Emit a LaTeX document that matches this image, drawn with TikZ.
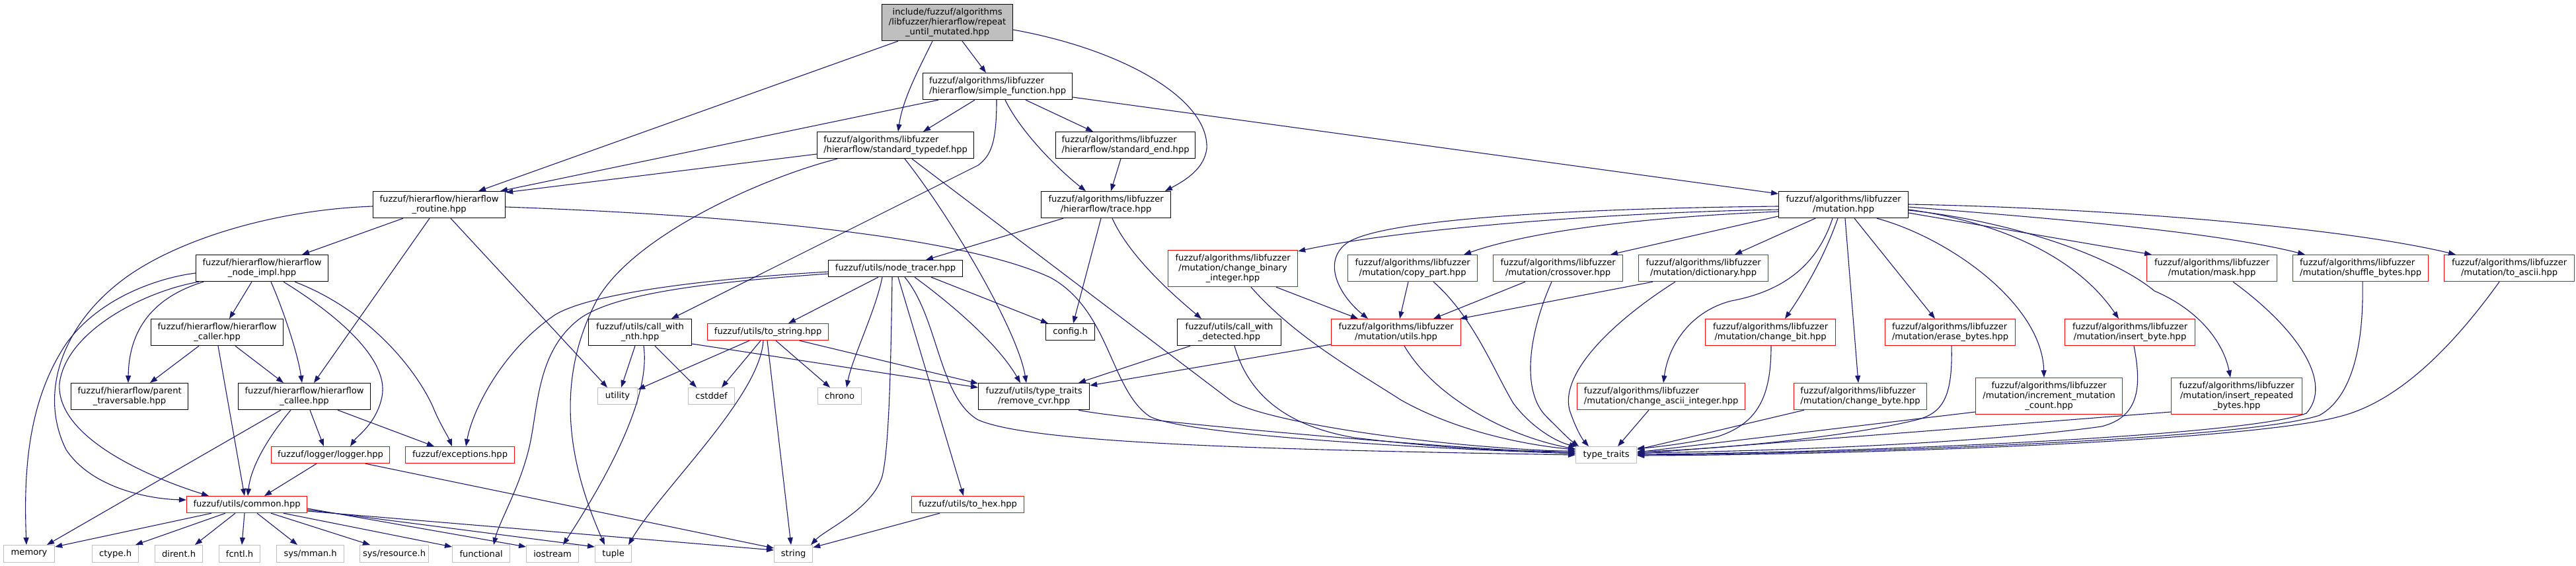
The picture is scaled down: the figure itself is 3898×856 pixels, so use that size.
\documentclass[tikz,border=0pt]{standalone}
\usepackage{fontspec}
\setmainfont{DejaVu Sans}
\usetikzlibrary{arrows.meta}
\definecolor{edgec}{HTML}{191970}
\definecolor{grayb}{HTML}{BFBFBF}
\definecolor{redb}{HTML}{FF0000}
\tikzset{
  nd/.style={draw=black, line width=1.2pt, inner sep=2pt, anchor=north west,
    font=\fontsize{13.1pt}{14.7pt}\selectfont, align=center},
  ndl/.style={nd, align=left},
  rd/.style={nd, draw=redb},
  rdl/.style={ndl, draw=redb},
  gd/.style={nd, draw=grayb},
  ed/.style={draw=edgec, line width=1.1pt, -{Triangle[length=11pt,width=8pt]}},
}
\begin{document}
\begin{tikzpicture}[x=1pt,y=-1pt]
\fill[white] (0,0) rectangle (3898,856);
\useasboundingbox (0,0) rectangle (3898,856);
% nodes
\node[nd, fill=grayb, minimum width=198pt, minimum height=55pt] (root) at (1334,6) {include/fuzzuf/algorithms\\/libfuzzer/hierarflow/repeat\\\_until\_mutated.hpp};
\node[ndl, minimum width=226pt, minimum height=40pt] (simple) at (1396,110) {fuzzuf/algorithms/libfuzzer\\/hierarflow/simple\_function.hpp};
\node[ndl, minimum width=237pt, minimum height=40pt] (stdtypedef) at (1236,199) {fuzzuf/algorithms/libfuzzer\\/hierarflow/standard\_typedef.hpp};
\node[ndl, minimum width=211pt, minimum height=40pt] (stdend) at (1597,199) {fuzzuf/algorithms/libfuzzer\\/hierarflow/standard\_end.hpp};
\node[nd, minimum width=200pt, minimum height=40pt] (routine) at (564,289) {fuzzuf/hierarflow/hierarflow\\\_routine.hpp};
\node[nd, minimum width=196pt, minimum height=40pt] (trace) at (1575,289) {fuzzuf/algorithms/libfuzzer\\/hierarflow/trace.hpp};
\node[nd, minimum width=196pt, minimum height=40pt] (mutation) at (2691,289) {fuzzuf/algorithms/libfuzzer\\/mutation.hpp};
\node[nd, minimum width=200pt, minimum height=40pt] (nodeimpl) at (296,385) {fuzzuf/hierarflow/hierarflow\\\_node\_impl.hpp};
\node[nd, minimum width=203pt, minimum height=25pt] (nodetracer) at (1253,393) {fuzzuf/utils/node\_tracer.hpp};
\node[rd, minimum width=196pt, minimum height=55pt] (chgbin) at (1767,378) {fuzzuf/algorithms/libfuzzer\\/mutation/change\_binary\\\_integer.hpp};
\node[rd, minimum width=196pt, minimum height=40pt] (copypart) at (2039,385) {fuzzuf/algorithms/libfuzzer\\/mutation/copy\_part.hpp};
\node[rd, minimum width=196pt, minimum height=40pt] (crossover) at (2259,385) {fuzzuf/algorithms/libfuzzer\\/mutation/crossover.hpp};
\node[rd, minimum width=196pt, minimum height=40pt] (dictionary) at (2479,385) {fuzzuf/algorithms/libfuzzer\\/mutation/dictionary.hpp};
\node[rd, minimum width=197pt, minimum height=40pt] (mask) at (3248,385) {fuzzuf/algorithms/libfuzzer\\/mutation/mask.hpp};
\node[rdl, minimum width=205pt, minimum height=40pt] (shuffle) at (3469,385) {fuzzuf/algorithms/libfuzzer\\/mutation/shuffle\_bytes.hpp};
\node[rd, minimum width=197pt, minimum height=40pt] (toascii) at (3698,385) {fuzzuf/algorithms/libfuzzer\\/mutation/to\_ascii.hpp};
\node[nd, minimum width=200pt, minimum height=40pt] (caller) at (228,482) {fuzzuf/hierarflow/hierarflow\\\_caller.hpp};
\node[nd, minimum width=156pt, minimum height=40pt] (callwithnth) at (890,482) {fuzzuf/utils/call\_with\\\_nth.hpp};
\node[rd, minimum width=183pt, minimum height=25pt] (tostring) at (1070,489) {fuzzuf/utils/to\_string.hpp};
\node[nd, minimum width=74pt, minimum height=25pt] (config) at (1582,489) {config.h};
\node[nd, minimum width=157pt, minimum height=40pt] (callwithdet) at (1781,482) {fuzzuf/utils/call\_with\\\_detected.hpp};
\node[rd, minimum width=196pt, minimum height=40pt] (mututils) at (2014,482) {fuzzuf/algorithms/libfuzzer\\/mutation/utils.hpp};
\node[rd, minimum width=197pt, minimum height=40pt] (chgbit) at (2580,482) {fuzzuf/algorithms/libfuzzer\\/mutation/change\_bit.hpp};
\node[rdl, minimum width=197pt, minimum height=40pt] (erase) at (2852,482) {fuzzuf/algorithms/libfuzzer\\/mutation/erase\_bytes.hpp};
\node[rd, minimum width=197pt, minimum height=40pt] (insertbyte) at (3124,482) {fuzzuf/algorithms/libfuzzer\\/mutation/insert\_byte.hpp};
\node[nd, minimum width=177pt, minimum height=40pt] (parent) at (107,579) {fuzzuf/hierarflow/parent\\\_traversable.hpp};
\node[nd, minimum width=200pt, minimum height=40pt] (callee) at (360,579) {fuzzuf/hierarflow/hierarflow\\\_callee.hpp};
\node[gd, minimum width=60pt, minimum height=25pt] (utility) at (904,586) {utility};
\node[gd, minimum width=70pt, minimum height=25pt] (cstddef) at (1041,586) {cstddef};
\node[gd, minimum width=66pt, minimum height=25pt] (chrono) at (1237,586) {chrono};
\node[nd, minimum width=168pt, minimum height=40pt] (removecvr) at (1480,579) {fuzzuf/utils/type\_traits\\/remove\_cvr.hpp};
\node[rdl, minimum width=254pt, minimum height=40pt] (chgascii) at (2386,579) {fuzzuf/algorithms/libfuzzer\\/mutation/change\_ascii\_integer.hpp};
\node[rdl, minimum width=201pt, minimum height=40pt] (chgbyte) at (2714,579) {fuzzuf/algorithms/libfuzzer\\/mutation/change\_byte.hpp};
\node[rd, minimum width=222pt, minimum height=55pt] (increment) at (2989,571) {fuzzuf/algorithms/libfuzzer\\/mutation/increment\_mutation\\\_count.hpp};
\node[rd, minimum width=198pt, minimum height=55pt] (insertrep) at (3285,571) {fuzzuf/algorithms/libfuzzer\\/mutation/insert\_repeated\\\_bytes.hpp};
\node[rd, minimum width=179pt, minimum height=25pt] (logger) at (410,675) {fuzzuf/logger/logger.hpp};
\node[rd, minimum width=165pt, minimum height=25pt] (exceptions) at (613,675) {fuzzuf/exceptions.hpp};
\node[gd, minimum width=92pt, minimum height=25pt] (typetraits) at (2384,675) {type\_traits};
\node[rd, minimum width=182pt, minimum height=25pt] (common) at (282,750) {fuzzuf/utils/common.hpp};
\node[rd, minimum width=170pt, minimum height=25pt] (tohex) at (1379,750) {fuzzuf/utils/to\_hex.hpp};
\node[gd, minimum width=77pt, minimum height=26pt] (memory) at (5,824) {memory};
\node[gd, minimum width=70pt, minimum height=26pt] (ctype) at (139,824) {ctype.h};
\node[gd, minimum width=72pt, minimum height=26pt] (dirent) at (234,824) {dirent.h};
\node[gd, minimum width=62pt, minimum height=26pt] (fcntl) at (331,824) {fcntl.h};
\node[gd, minimum width=102pt, minimum height=26pt] (sysmman) at (418,824) {sys/mman.h};
\node[gd, minimum width=104pt, minimum height=26pt] (sysres) at (544,824) {sys/resource.h};
\node[gd, minimum width=87pt, minimum height=26pt] (functional) at (684,824) {functional};
\node[gd, minimum width=79pt, minimum height=26pt] (iostream) at (796,824) {iostream};
\node[gd, minimum width=55pt, minimum height=26pt] (tuple) at (900,824) {tuple};
\node[gd, minimum width=58pt, minimum height=26pt] (string) at (1171,824) {string};
% edges
\draw[ed] ([xshift=25pt]root.south west) -- ([xshift=160pt]routine.north west);
\draw[ed] ([xshift=77pt]root.south west) .. controls (1390,105) and (1366,150) .. ([xshift=123pt]stdtypedef.north west);
\draw[ed] ([xshift=122pt]root.south west) -- ([xshift=96pt]simple.north west);
\draw[ed] ([yshift=-39pt]root.north east) .. controls (1700,75) and (1830,150) .. (1826,225) .. controls (1822,255) and (1795,272) .. ([xshift=188pt]trace.north west);
\draw[ed] ([xshift=24pt]simple.south west) -- ([xshift=193pt]routine.north west);
\draw[ed] ([yshift=-34pt]stdtypedef.north west) -- ([yshift=-2pt]routine.north east);
\draw[ed] ([xshift=79pt]simple.south west) -- ([xshift=161pt]stdtypedef.north west);
\draw[ed] ([xshift=112pt]simple.south west) .. controls (1508,215) and (1500,235) .. (1480,250) -- ([xshift=126pt]callwithnth.north west);
\draw[ed] ([xshift=125pt]simple.south west) .. controls (1545,200) and (1600,255) .. ([xshift=68pt]trace.north west);
\draw[ed] ([xshift=156pt]simple.south west) -- ([xshift=57pt]stdend.north west);
\draw[ed] ([yshift=-37pt]simple.north east) -- ([yshift=-4pt]mutation.north west);
\draw[ed] ([xshift=99pt]stdend.south west) -- ([xshift=106pt]trace.north west);
% routine
\draw[ed] ([xshift=46pt]routine.south west) -- ([xshift=161pt]nodeimpl.north west);
\draw[ed] ([xshift=86pt]routine.south west) -- ([xshift=115pt]callee.north west);
\draw[ed] ([xshift=118pt]routine.south west) -- ([xshift=15pt]utility.north west);
\draw[ed] ([yshift=-24pt]routine.north east) .. controls (1100,325) and (1450,355) .. (1590,420) .. controls (1680,470) and (1680,590) .. (1740,630) .. controls (1800,660) and (2200,680) .. ([yshift=-11pt]typetraits.north west);
\draw[ed] ([yshift=-23pt]routine.north west) .. controls (400,318) and (250,370) .. (177,430) .. controls (90,500) and (60,600) .. (100,680) .. controls (140,740) and (230,755) .. ([yshift=-6pt]common.north west);
% node impl
\draw[ed] ([yshift=-28pt]nodeimpl.north west) .. controls (240,420) and (150,450) .. (100,520) .. controls (40,610) and (36,720) .. ([xshift=35pt]memory.north west);
\draw[ed] ([xshift=5pt]nodeimpl.south west) .. controls (220,440) and (100,500) .. (90,580) .. controls (85,660) and (220,720) .. ([xshift=34pt]common.north west);
\draw[ed] ([xshift=12pt]nodeimpl.south west) .. controls (230,450) and (195,500) .. ([xshift=87pt]parent.north west);
\draw[ed] ([xshift=85pt]nodeimpl.south west) -- ([xshift=119pt]caller.north west);
\draw[ed] ([xshift=114pt]nodeimpl.south west) .. controls (425,460) and (450,530) .. ([xshift=97pt]callee.north west);
\draw[ed] ([xshift=133pt]nodeimpl.south west) .. controls (500,470) and (590,540) .. (578,600) .. controls (570,640) and (540,660) .. ([xshift=120pt]logger.north west);
\draw[ed] ([xshift=150pt]nodeimpl.south west) .. controls (560,470) and (630,560) .. (655,615) .. controls (665,640) and (678,660) .. ([xshift=71pt]exceptions.north west);
% caller, callee, logger
\draw[ed] ([xshift=73pt]caller.south west) -- ([xshift=120pt]parent.north west);
\draw[ed] ([xshift=102pt]caller.south west) -- ([xshift=88pt]common.north west);
\draw[ed] ([xshift=128pt]caller.south west) -- ([xshift=69pt]callee.north west);
\draw[ed] ([xshift=65pt]callee.south west) -- ([xshift=66pt]memory.north west);
\draw[ed] ([xshift=80pt]callee.south west) .. controls (415,650) and (380,700) .. ([xshift=93pt]common.north west);
\draw[ed] ([xshift=109pt]callee.south west) -- ([xshift=80pt]logger.north west);
\draw[ed] ([xshift=151pt]callee.south west) -- ([xshift=44pt]exceptions.north west);
\draw[ed] ([xshift=69pt]logger.south west) -- ([xshift=118pt]common.north west);
\draw[ed] ([xshift=143pt]logger.south west) -- ([yshift=-5pt]string.north west);
% common
\draw[ed] ([xshift=38pt]common.south west) -- ([yshift=-3pt]memory.north east);
\draw[ed] ([xshift=59pt]common.south west) -- ([xshift=66pt]ctype.north west);
\draw[ed] ([xshift=74pt]common.south west) -- ([xshift=61pt]dirent.north west);
\draw[ed] ([xshift=88pt]common.south west) -- ([xshift=35pt]fcntl.north west);
\draw[ed] ([xshift=107pt]common.south west) -- ([xshift=32pt]sysmman.north west);
\draw[ed] ([xshift=128pt]common.south west) -- ([xshift=16pt]sysres.north west);
\draw[ed] ([xshift=147pt]common.south west) -- ([yshift=-3pt]functional.north west);
\draw[ed] ([yshift=-19pt]common.north east) -- ([yshift=-3pt]iostream.north west);
\draw[ed] ([yshift=-21pt]common.north east) -- ([yshift=-3pt]tuple.north west);
\draw[ed] ([yshift=-23pt]common.north east) -- ([yshift=-8pt]string.north west);
% standard typedef
\draw[ed] ([xshift=31pt]stdtypedef.south west) .. controls (1150,270) and (950,360) .. (900,460) .. controls (840,580) and (860,700) .. ([xshift=15pt]tuple.north west);
\draw[ed] ([xshift=133pt]stdtypedef.south west) .. controls (1440,330) and (1540,500) .. ([xshift=73pt]removecvr.north west);
\draw[ed] ([xshift=144pt]stdtypedef.south west) -- (1860,604) .. controls (1900,635) and (2150,675) .. ([yshift=-8pt]typetraits.north west);
% trace
\draw[ed] ([xshift=34pt]trace.south west) -- ([xshift=148pt]nodetracer.north west);
\draw[ed] ([xshift=91pt]trace.south west) -- ([xshift=42pt]config.north west);
\draw[ed] ([xshift=108pt]trace.south west) .. controls (1710,390) and (1780,450) .. ([xshift=37pt]callwithdet.north west);
% node tracer
\draw[ed] ([yshift=-18pt]nodetracer.north west) .. controls (1100,420) and (900,440) .. (840,476) .. controls (760,530) and (715,620) .. ([xshift=92pt]exceptions.north west);
\draw[ed] ([yshift=-21pt]nodetracer.north west) .. controls (1100,425) and (940,440) .. (880,480) .. controls (810,530) and (815,620) .. (800,680) .. controls (785,740) and (755,790) .. ([xshift=63pt]functional.north west);
\draw[ed] ([xshift=76pt]nodetracer.south west) -- ([xshift=123pt]tostring.north west);
\draw[ed] ([xshift=82pt]nodetracer.south west) .. controls (1325,470) and (1290,540) .. ([xshift=44pt]chrono.north west);
\draw[ed] ([xshift=97pt]nodetracer.south west) .. controls (1348,560) and (1345,680) .. (1335,720) .. controls (1320,770) and (1250,800) .. ([xshift=56pt]string.north west);
\draw[ed] ([xshift=106pt]nodetracer.south west) -- ([xshift=79pt]tohex.north west);
\draw[ed] ([xshift=116pt]nodetracer.south west) .. controls (1420,480) and (1420,600) .. (1480,635) .. controls (1560,670) and (1900,680) .. ([yshift=-13pt]typetraits.north west);
\draw[ed] ([xshift=131pt]nodetracer.south west) .. controls (1440,460) and (1510,520) .. ([xshift=64pt]removecvr.north west);
\draw[ed] ([xshift=156pt]nodetracer.south west) -- ([xshift=4pt]config.north west);
% to_string
\draw[ed] ([xshift=64pt]tostring.south west) -- ([yshift=-3pt]utility.north east);
\draw[ed] ([xshift=81pt]tostring.south west) -- ([xshift=51pt]cstddef.north west);
\draw[ed] ([xshift=85pt]tostring.south west) .. controls (1150,600) and (1000,740) .. ([xshift=51pt]tuple.north west);
\draw[ed] ([xshift=91pt]tostring.south west) -- ([xshift=26pt]string.north west);
\draw[ed] ([xshift=104pt]tostring.south west) -- ([xshift=19pt]chrono.north west);
\draw[ed] ([xshift=140pt]tostring.south west) -- ([yshift=-1pt]removecvr.north west);
% call_with_nth
\draw[ed] ([xshift=71pt]callwithnth.south west) -- ([xshift=36pt]utility.north west);
\draw[ed] ([xshift=84pt]callwithnth.south west) .. controls (985,600) and (920,720) .. ([xshift=56pt]iostream.north west);
\draw[ed] ([xshift=101pt]callwithnth.south west) -- ([xshift=13pt]cstddef.north west);
\draw[ed] ([yshift=-38pt]callwithnth.north east) -- ([yshift=-7pt]removecvr.north west);
% call_with_detected, remove_cvr, to_hex
\draw[ed] ([xshift=20pt]callwithdet.south west) -- ([xshift=152pt]removecvr.north west);
\draw[ed] ([xshift=87pt]callwithdet.south west) .. controls (1890,600) and (1950,645) .. (2050,662) .. controls (2200,680) and (2300,683) .. ([yshift=-7pt]typetraits.north west);
\draw[ed] ([xshift=152pt]removecvr.south west) .. controls (1700,635) and (2200,680) .. ([yshift=-10pt]typetraits.north west);
\draw[ed] ([xshift=43pt]tohex.south west) -- ([yshift=-4pt]string.north east);
% mutation utils
\draw[ed] ([yshift=-39pt]mututils.north west) -- ([yshift=-4pt]removecvr.north east);
\draw[ed] ([xshift=111pt]mututils.south west) .. controls (2170,600) and (2280,660) .. ([yshift=-4pt]typetraits.north west);
% change binary integer
\draw[ed] ([xshift=164pt]chgbin.south west) -- ([xshift=41pt]mututils.north west);
\draw[ed] ([xshift=126pt]chgbin.south west) .. controls (1960,510) and (2050,560) .. (2120,605) .. controls (2200,650) and (2300,672) .. ([yshift=-5pt]typetraits.north west);
% mutation
\draw[ed] ([yshift=-23pt]mutation.north west) .. controls (2400,315) and (2080,330) .. (2035,370) .. controls (2000,400) and (2030,450) .. ([xshift=56pt]mututils.north west);
\draw[ed] ([yshift=-28pt]mutation.north west) .. controls (2400,322) and (2100,350) .. ([yshift=-2pt]chgbin.north east);
\draw[ed] ([yshift=-31pt]mutation.north west) .. controls (2450,330) and (2300,355) .. ([xshift=176pt]copypart.north west);
\draw[ed] ([yshift=-38pt]mutation.north west) -- ([xshift=178pt]crossover.north west);
\draw[ed] ([xshift=56pt]mutation.south west) -- ([xshift=146pt]dictionary.north west);
\draw[ed] ([xshift=82pt]mutation.south west) .. controls (2750,400) and (2700,440) .. (2620,455) .. controls (2560,470) and (2525,520) .. ([xshift=131pt]chgascii.north west);
\draw[ed] ([xshift=90pt]mutation.south west) .. controls (2760,390) and (2730,440) .. ([xshift=121pt]chgbit.north west);
\draw[ed] ([xshift=101pt]mutation.south west) -- ([xshift=98pt]chgbyte.north west);
\draw[ed] ([xshift=115pt]mutation.south west) -- ([xshift=76pt]erase.north west);
\draw[ed] ([xshift=149pt]mutation.south west) .. controls (2950,360) and (3090,460) .. ([xshift=104pt]increment.north west);
\draw[ed] ([yshift=-28pt]mutation.north east) .. controls (3020,335) and (3140,385) .. ([xshift=82pt]insertbyte.north west);
\draw[ed] ([yshift=-29pt]mutation.north east) .. controls (3050,335) and (3200,390) .. (3260,440) .. controls (3330,470) and (3365,520) .. ([xshift=90pt]insertrep.north west);
\draw[ed] ([yshift=-33pt]mutation.north east) -- ([xshift=8pt]mask.north west);
\draw[ed] ([yshift=-24pt]mutation.north east) .. controls (3100,330) and (3350,350) .. ([xshift=19pt]shuffle.north west);
\draw[ed] ([yshift=-20pt]mutation.north east) .. controls (3200,315) and (3550,345) .. ([xshift=18pt]toascii.north west);
% dictionary, copy_part, crossover
\draw[ed] ([xshift=22pt]dictionary.south west) -- ([xshift=-2pt]mututils.north east);
\draw[ed] ([xshift=56pt]dictionary.south west) .. controls (2450,480) and (2360,560) .. (2375,620) .. controls (2385,650) and (2395,665) .. ([xshift=20pt]typetraits.north west);
\draw[ed] ([xshift=92pt]copypart.south west) -- ([xshift=104pt]mututils.north west);
\draw[ed] ([xshift=130pt]copypart.south west) .. controls (2230,480) and (2260,560) .. (2290,610) .. controls (2320,650) and (2360,670) .. ([xshift=2pt]typetraits.north west);
\draw[ed] ([xshift=49pt]crossover.south west) -- ([xshift=155pt]mututils.north west);
\draw[ed] ([xshift=89pt]crossover.south west) .. controls (2315,500) and (2300,590) .. (2340,630) .. controls (2360,650) and (2375,665) .. ([xshift=5pt]typetraits.north west);
% right side to type_traits
\draw[ed] ([xshift=109pt]chgascii.south west) -- ([xshift=64pt]typetraits.north west);
\draw[ed] ([xshift=100pt]chgbit.south west) .. controls (2680,600) and (2660,640) .. (2600,660) .. controls (2560,670) and (2500,677) .. ([yshift=-3pt]typetraits.north east);
\draw[ed] ([xshift=16pt]chgbyte.south west) -- ([yshift=-5pt]typetraits.north east);
\draw[ed] ([xshift=101pt]erase.south west) .. controls (2955,600) and (2940,625) .. (2900,635) .. controls (2800,660) and (2600,680) .. ([yshift=-8pt]typetraits.north east);
\draw[ed] ([yshift=-52pt]increment.north west) -- ([yshift=-9pt]typetraits.north east);
\draw[ed] ([xshift=105pt]insertbyte.south west) .. controls (3240,580) and (3240,630) .. (3180,645) .. controls (3000,670) and (2700,682) .. ([yshift=-10pt]typetraits.north east);
\draw[ed] ([yshift=-52pt]insertrep.north west) -- ([yshift=-11pt]typetraits.north east);
\draw[ed] ([xshift=131pt]mask.south west) .. controls (3480,500) and (3530,580) .. (3490,625) .. controls (3400,660) and (2800,685) .. ([yshift=-12pt]typetraits.north east);
\draw[ed] ([xshift=106pt]shuffle.south west) .. controls (3577,520) and (3560,600) .. (3510,628) .. controls (3400,665) and (2800,686) .. ([yshift=-13pt]typetraits.north east);
\draw[ed] ([xshift=84pt]toascii.south west) .. controls (3700,540) and (3620,610) .. (3540,630) .. controls (3400,668) and (2800,688) .. ([yshift=-14pt]typetraits.north east);
\end{tikzpicture}
\end{document}
